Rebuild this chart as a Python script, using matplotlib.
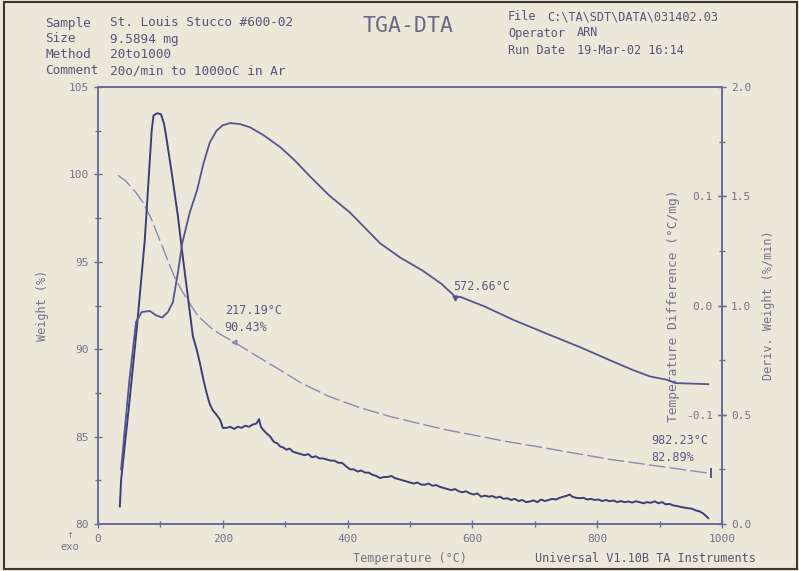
import matplotlib
matplotlib.use("Agg")
import matplotlib.pyplot as plt
from matplotlib.patches import Rectangle

# ---------------- data ----------------
weight_T = [32, 45, 60, 72, 85, 95, 105, 115, 123, 135, 144, 160, 180, 196, 217.19, 250, 290,
            324, 370, 420, 468, 520, 559, 600, 650, 700, 772, 820, 870, 920, 960, 982.23]
weight_W = [99.95, 99.6, 99.0, 98.4, 97.5, 96.6, 95.7, 94.8, 94.1, 93.3, 92.8, 91.9, 91.25, 90.85,
            90.43, 89.7, 88.85, 88.1, 87.3, 86.65, 86.15, 85.7, 85.38, 85.1, 84.75, 84.45,
            84.0, 83.7, 83.45, 83.2, 83.0, 82.89]

dta_T = [37, 50, 61, 70, 83, 93, 103, 112, 120, 128, 135, 147, 159, 169, 179, 190, 200, 212,
         228, 244, 265, 292, 315, 340, 370, 404, 440, 452, 484, 520, 550, 569, 572.66, 580,
         620, 665, 720, 772, 820, 857, 885, 912, 925, 978]
dta_V = [-0.150, -0.070, -0.015, -0.006, -0.005, -0.009, -0.011, -0.006, 0.003, 0.030, 0.057,
         0.085, 0.106, 0.130, 0.149, 0.160, 0.165, 0.167, 0.166, 0.163, 0.156, 0.145, 0.133,
         0.118, 0.101, 0.085, 0.064, 0.057, 0.044, 0.032, 0.020, 0.010, 0.007, 0.008,
         -0.001, -0.013, -0.026, -0.038, -0.050, -0.059, -0.065, -0.068, -0.071, -0.072]

deriv_T = [35, 37, 50, 62, 75, 82, 86, 89, 95, 101, 106, 110, 118, 128, 136, 144, 152, 158, 163,
           169, 174, 179, 184, 190, 196, 200, 206, 212, 218, 224, 230, 236, 242, 248, 254, 258,
           261, 265, 270, 276, 282, 287, 292, 297, 302, 307, 313, 319, 325, 331, 337, 343, 349,
           355, 361, 367, 373, 379, 385, 391, 397, 404, 410, 416, 422, 428, 434, 440, 446, 452,
           458, 464, 470, 476, 482, 488, 494, 500, 506, 512, 518, 524, 530, 536, 542, 548, 554,
           560, 566, 572, 578, 584, 590, 596, 602, 608, 614, 620, 626, 632, 638, 644, 650, 656,
           662, 668, 674, 680, 686, 692, 698, 704, 710, 716, 722, 728, 734, 740, 746, 752, 756,
           760, 766, 772, 778, 784, 790, 796, 802, 808, 814, 820, 826, 832, 838, 844, 850, 856,
           862, 868, 874, 880, 886, 892, 898, 904, 910, 916, 922, 928, 934, 940, 946, 952, 958,
           964, 970, 975, 978]
deriv_D = [0.08, 0.20, 0.55, 0.89, 1.30, 1.62, 1.80, 1.87, 1.88, 1.875, 1.83, 1.76, 1.61, 1.41,
           1.22, 1.04, 0.86, 0.80, 0.74, 0.66, 0.60, 0.55, 0.52, 0.50, 0.475, 0.44, 0.44, 0.445,
           0.435, 0.445, 0.44, 0.45, 0.445, 0.455, 0.46, 0.48, 0.445, 0.43, 0.415, 0.40, 0.375,
           0.37, 0.355, 0.35, 0.34, 0.345, 0.33, 0.325, 0.32, 0.315, 0.32, 0.305, 0.31, 0.30,
           0.30, 0.295, 0.29, 0.29, 0.28, 0.28, 0.265, 0.25, 0.25, 0.24, 0.245, 0.235, 0.235,
           0.225, 0.22, 0.21, 0.215, 0.215, 0.22, 0.21, 0.205, 0.20, 0.195, 0.19, 0.185, 0.19,
           0.18, 0.18, 0.185, 0.175, 0.178, 0.17, 0.165, 0.16, 0.155, 0.16, 0.15, 0.145, 0.15,
           0.14, 0.135, 0.14, 0.125, 0.13, 0.125, 0.128, 0.12, 0.125, 0.115, 0.118, 0.11, 0.115,
           0.105, 0.11, 0.10, 0.103, 0.108, 0.10, 0.112, 0.105, 0.11, 0.115, 0.112, 0.12, 0.125,
           0.13, 0.135, 0.125, 0.12, 0.118, 0.12, 0.112, 0.115, 0.11, 0.112, 0.105, 0.11, 0.104,
           0.108, 0.10, 0.105, 0.10, 0.103, 0.098, 0.104, 0.10, 0.095, 0.10, 0.097, 0.104, 0.095,
           0.10, 0.09, 0.092, 0.085, 0.082, 0.078, 0.075, 0.072, 0.07, 0.062, 0.058, 0.048,
           0.035, 0.027]

x_ticks = [0, 200, 400, 600, 800, 1000]
x_ticklabels = ["0", "200", "400", "600", "800", "1000"]
w_ticks = [80, 85, 90, 95, 100, 105]
d_ticks = [0.0, 0.5, 1.0, 1.5, 2.0]
d_ticklabels = ["0.0", "0.5", "1.0", "1.5", "2.0"]
t_ticks = [-0.1, 0.0, 0.1]
t_ticklabels = ["-0.1", "0.0", "0.1"]

# ---------------- style ----------------
BG = "#ece8d9"
LINE = "#55558f"
DERIV = "#3d3d78"
WCOL = "#8a8ab5"
SPINE = "#6a6a9c"
TXT = "#72728a"
MONO = "DejaVu Sans Mono"

W, H = 799, 571
fig = plt.figure(figsize=(W / 100, H / 100), dpi=100, facecolor=BG)
L, R, T, B = 98, 722, 87, 524
ax = fig.add_axes([L / W, 1 - B / H, (R - L) / W, (B - T) / H])
ax.set_facecolor(BG)

ax.set_xlim(0, 1000)
ax.set_ylim(80, 105)
ax2 = ax.twinx()
ax2.set_ylim(0, 2.0)
ax3 = ax.twinx()
ax3.set_ylim(-0.2, 0.2)

for a in (ax, ax2, ax3):
    for s in a.spines.values():
        s.set_color(SPINE)
        s.set_linewidth(1.1)

# DTA axis: spine at right edge, ticks/labels pointing inside
ax3.spines["left"].set_position(("axes", 1.0))
ax3.spines["left"].set_visible(True)
ax3.spines["right"].set_visible(False)
ax3.yaxis.set_ticks_position("left")
ax3.yaxis.set_label_position("left")

# curves
ax.plot(weight_T, weight_W, color=WCOL, lw=1.0, ls=(0, (12, 3)))
ax3.plot(dta_T, dta_V, color=LINE, lw=1.3)
ax2.plot(deriv_T, deriv_D, color=DERIV, lw=1.4)

# markers
ax.plot([217.19], [90.43], marker="<", ms=3.5, color=WCOL)
ax.plot([982.23], [82.89], marker="|", ms=7, color=DERIV, mew=1.2)
ax3.plot([572.66], [0.007], marker="v", ms=3.5, color=LINE)

# annotations
ann_kw = dict(family=MONO, fontsize=8.5, color="#5a5a7e", ha="left", va="center")
ax.text(203, 92.24, "217.19°C", **ann_kw)
ax.text(203, 91.27, "90.43%", **ann_kw)
ax.text(569, 93.56, "572.66°C", **ann_kw)
ax.text(886, 84.75, "982.23°C", **ann_kw)
ax.text(886, 83.78, "82.89%", **ann_kw)

# ticks
tick_kw = dict(colors=SPINE, labelcolor=TXT, labelsize=8, direction="inout", length=6, width=1)
ax.set_xticks(x_ticks)
ax.set_xticklabels(x_ticklabels, family=MONO)
ax.set_xticks([100, 300, 500, 700, 900], minor=True)
ax.set_yticks(w_ticks)
ax.set_yticklabels([str(v) for v in w_ticks], family=MONO)
ax.set_yticks([82.5, 87.5, 92.5, 97.5, 102.5], minor=True)
ax.tick_params(axis="both", which="major", **tick_kw)
ax.tick_params(axis="both", which="minor", colors=SPINE, direction="inout", length=4, width=1)
ax.tick_params(axis="x", pad=4)

ax2.set_yticks(d_ticks)
ax2.set_yticklabels(d_ticklabels, family=MONO)
ax2.set_yticks([0.25, 0.75, 1.25, 1.75], minor=True)
ax2.tick_params(axis="y", which="major", **tick_kw)
ax2.tick_params(axis="y", which="minor", colors=SPINE, direction="inout", length=4, width=1)

ax3.set_yticks(t_ticks)
ax3.set_yticklabels(t_ticklabels, family=MONO)
ax3.tick_params(axis="y", which="major", **tick_kw)
ax3.tick_params(axis="y", which="minor", left=False)

# axis labels
lab_kw = dict(family=MONO, fontsize=8.5, color=TXT)
ax.set_xlabel("Temperature (°C)", labelpad=6, **lab_kw)
ax.set_ylabel("Weight (%)", labelpad=14, **lab_kw)
ax2.set_ylabel("Deriv. Weight (%/min)", labelpad=8, **lab_kw)
ax3.set_ylabel("Temperature Difference (°C/mg)", labelpad=4,
               family=MONO, fontsize=9.3, color=TXT)

# header
hdr = dict(family=MONO, fontsize=9.2, color="#55557a", va="center", ha="left")
rows = [("Sample", "St. Louis Stucco #600-02", 23),
        ("Size", "9.5894 mg", 39),
        ("Method", "20to1000", 55),
        ("Comment", "20o/min to 1000oC in Ar", 71)]
for k, v, y in rows:
    fig.text(45 / W, 1 - y / H, k, **hdr)
    fig.text(110 / W, 1 - y / H, v, **hdr)
rows2 = [("File", "C:\\TA\\SDT\\DATA\\031402.03", 17, 547),
         ("Operator", "ARN", 33, 577),
         ("Run Date", "19-Mar-02 16:14", 50, 577)]
for k, v, y, xv in rows2:
    fig.text(508 / W, 1 - y / H, k, family=MONO, fontsize=8.6, color="#55557a",
             va="center", ha="left")
    fig.text(xv / W, 1 - y / H, v, family=MONO, fontsize=8.6, color="#55557a",
             va="center", ha="left")
fig.text(408 / W, 1 - 26 / H, "TGA-DTA", family=MONO, fontsize=15.5,
         color="#6a6a88", ha="center", va="center")

fig.text(535 / W, 1 - 559 / H, "Universal V1.10B TA Instruments",
         family=MONO, fontsize=8.6, color="#55557a", va="center", ha="left")
fig.text(70 / W, 1 - 547 / H, "exo", family=MONO, fontsize=7.5, color=TXT, ha="center", va="center")
fig.text(70 / W, 1 - 536 / H, "↑", family="DejaVu Sans", fontsize=6, color=TXT, ha="center", va="center")

# scan frame
fig.patches.append(Rectangle((4 / W, 2 / H), 793 / W, 567 / H, transform=fig.transFigure,
                             fill=False, edgecolor="#3a3631", lw=1.5))

fig.savefig("out.png", dpi=100, facecolor=BG)
